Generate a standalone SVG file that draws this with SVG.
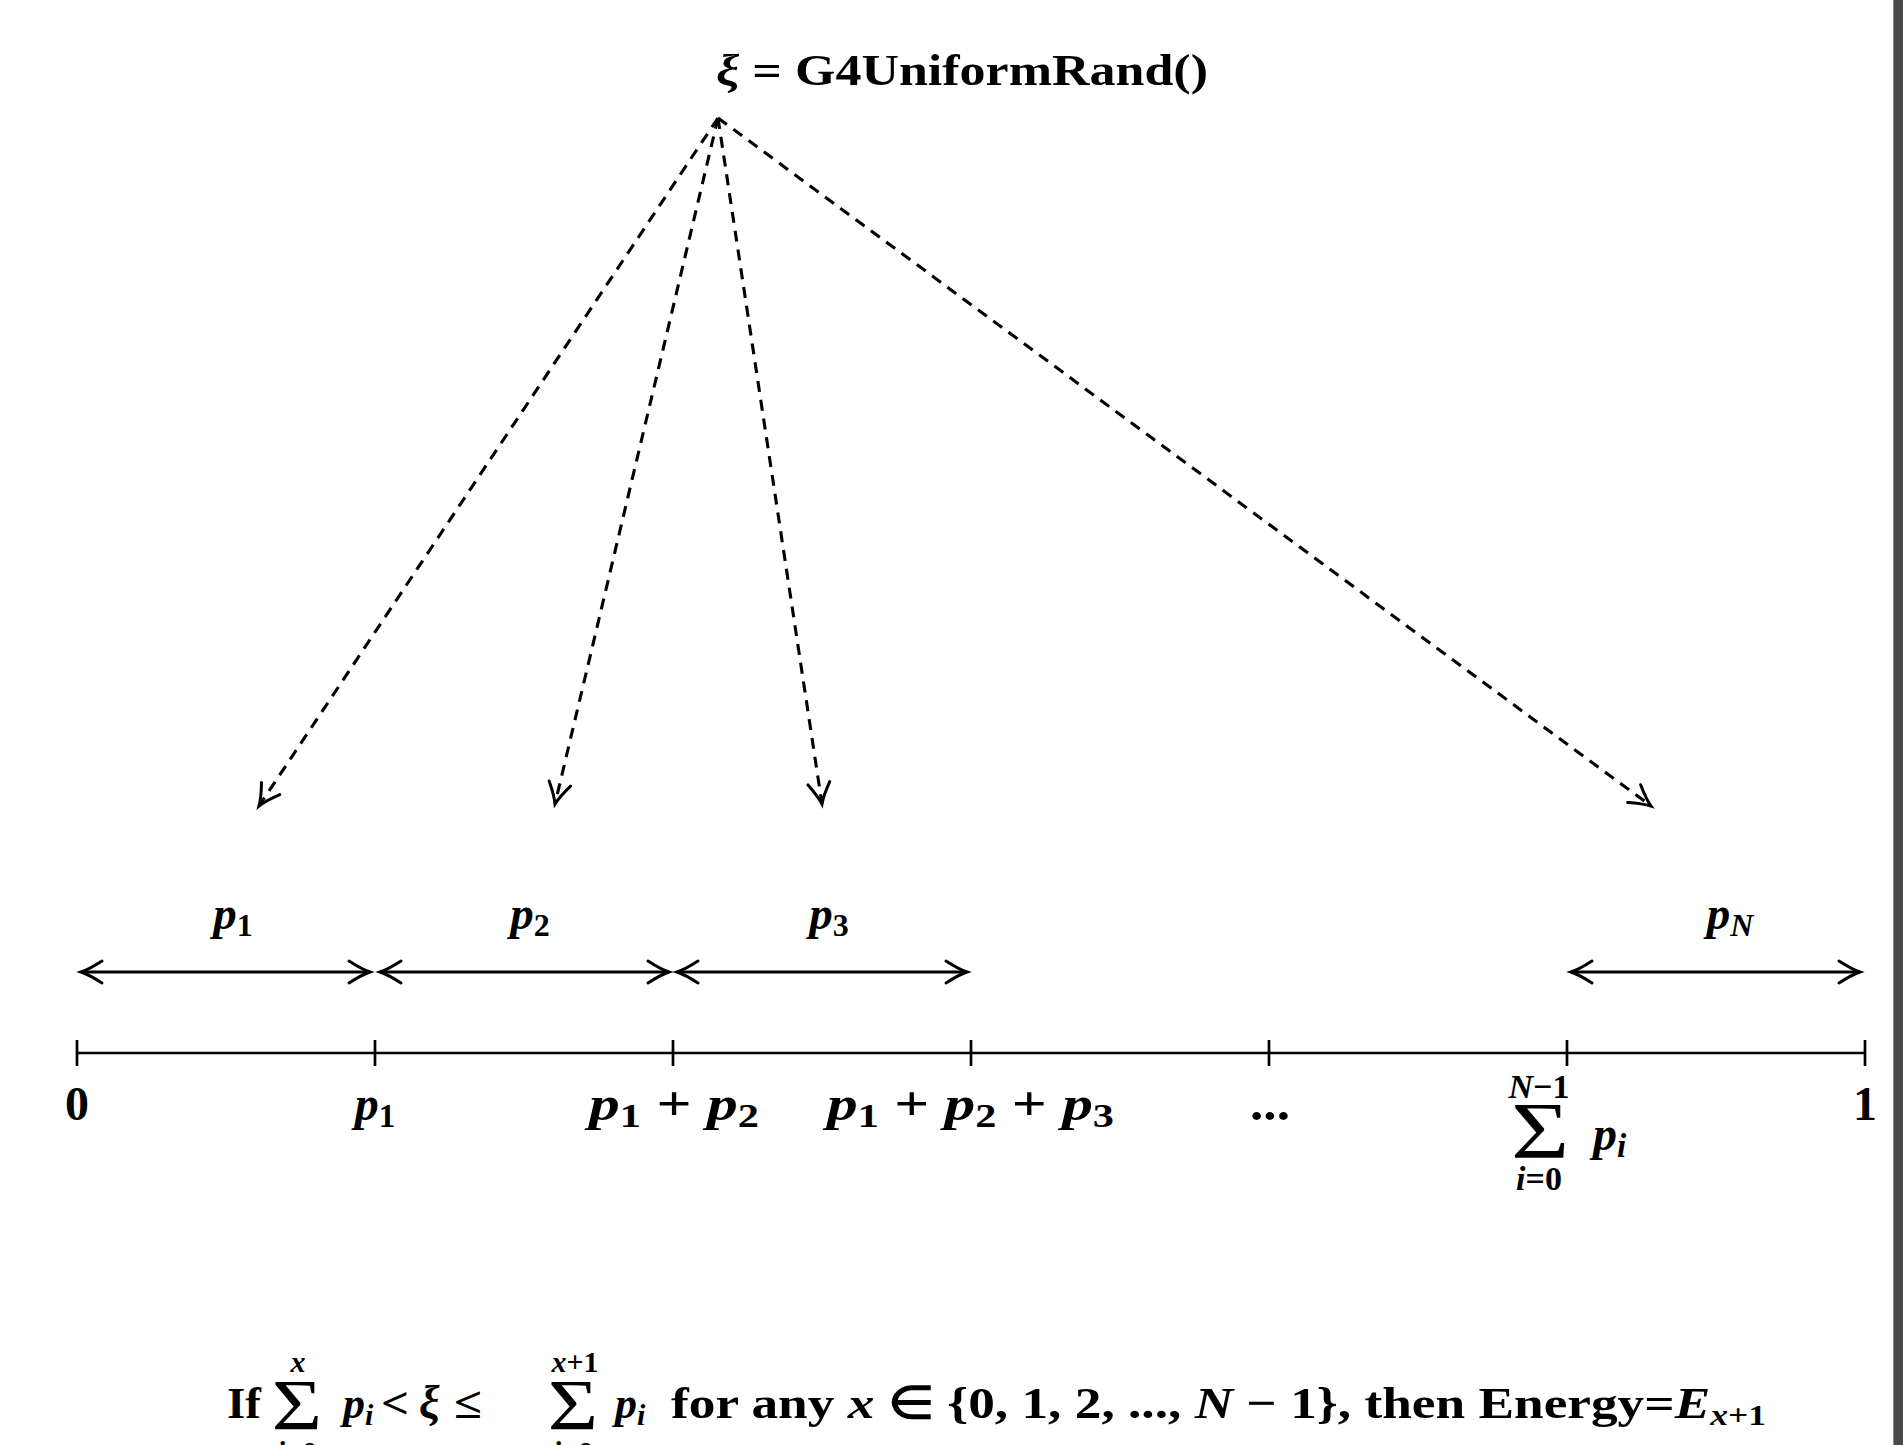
<svg xmlns="http://www.w3.org/2000/svg" width="1903" height="1445" viewBox="0 0 1903 1445">
<style>
.t{font-family:"Liberation Serif",serif;font-weight:bold;fill:#000}
.r{font-family:"Liberation Serif",serif;font-weight:normal;fill:#000}
.i{font-style:italic}
.dash{fill:none;stroke:#000;stroke-width:3.1;stroke-dasharray:11 8}
.dbl{fill:none;stroke:#000;stroke-width:3}
.axis{fill:none;stroke:#000;stroke-width:2.7}
</style>
<defs>
<marker id="ah" markerUnits="userSpaceOnUse" viewBox="-25 -14 30 28" refX="0" refY="0" markerWidth="30" markerHeight="28" orient="auto-start-reverse">
<path d="M-21,-11 C-14,-6.5 -6,-2 0,0 C-6,2 -14,6.5 -21,11" fill="none" stroke="#000" stroke-width="3" stroke-linecap="round" stroke-dasharray="none"/>
</marker>
</defs>
<rect x="0" y="0" width="1903" height="1445" fill="#fff"/>
<rect x="1893" y="0" width="10" height="1445" fill="#4b4b4b"/>
<rect x="1893" y="0" width="1" height="1445" fill="#8a8a8a"/>

<g id="title">
<text class="t" x="716" y="85" font-size="45" textLength="492" lengthAdjust="spacingAndGlyphs"><tspan class="i">ξ</tspan> = G4UniformRand()</text>
</g>

<g id="connectors">
<path class="dash" d="M718,118 L259,806" marker-end="url(#ah)"/>
<path class="dash" d="M718,118 L555,804" marker-end="url(#ah)"/>
<path class="dash" d="M718,118 L822,804" marker-end="url(#ah)"/>
<path class="dash" d="M718,118 L1651,806" marker-end="url(#ah)"/>
<path class="dbl" d="M81,972 L370,972" marker-start="url(#ah)" marker-end="url(#ah)"/>
<path class="dbl" d="M380,972 L669,972" marker-start="url(#ah)" marker-end="url(#ah)"/>
<path class="dbl" d="M677,972 L967,972" marker-start="url(#ah)" marker-end="url(#ah)"/>
<path class="dbl" d="M1571,972 L1860,972" marker-start="url(#ah)" marker-end="url(#ah)"/>
</g>

<g id="segment-labels">
<text class="t" x="233" y="929" font-size="47" text-anchor="middle"><tspan class="i">p</tspan><tspan font-size="32" dy="7">1</tspan></text>
<text class="t" x="530" y="929" font-size="47" text-anchor="middle"><tspan class="i">p</tspan><tspan font-size="32" dy="7">2</tspan></text>
<text class="t" x="829" y="929" font-size="47" text-anchor="middle"><tspan class="i">p</tspan><tspan font-size="32" dy="7">3</tspan></text>
<text class="t" x="1730" y="929" font-size="47" text-anchor="middle"><tspan class="i">p</tspan><tspan class="i" font-size="32" dy="7">N</tspan></text>
</g>

<g id="axis">
<path class="axis" d="M77,1053 L1865,1053"/>
<path class="axis" d="M77,1040 V1066 M375,1040 V1066 M673,1040 V1066 M971,1040 V1066 M1269,1040 V1066 M1567,1040 V1066 M1865,1040 V1066"/>
</g>

<g id="axis-labels">
<text class="t" x="77" y="1120" font-size="48" text-anchor="middle">0</text>
<text class="t" x="375" y="1120" font-size="48" text-anchor="middle"><tspan class="i">p</tspan><tspan font-size="33" dy="7">1</tspan></text>
<text class="t" x="589" y="1120" font-size="48" textLength="170" lengthAdjust="spacingAndGlyphs"><tspan class="i">p</tspan><tspan font-size="33" dy="7">1</tspan><tspan dy="-7"> + </tspan><tspan class="i">p</tspan><tspan font-size="33" dy="7">2</tspan></text>
<text class="t" x="827" y="1120" font-size="48" textLength="287" lengthAdjust="spacingAndGlyphs"><tspan class="i">p</tspan><tspan font-size="33" dy="7">1</tspan><tspan dy="-7"> + </tspan><tspan class="i">p</tspan><tspan font-size="33" dy="7">2</tspan><tspan dy="-7"> + </tspan><tspan class="i">p</tspan><tspan font-size="33" dy="7">3</tspan></text>
<text class="t" x="1250" y="1120" font-size="48" textLength="40" lengthAdjust="spacingAndGlyphs">...</text>
<text class="t" x="1865" y="1120" font-size="48" text-anchor="middle">1</text>
<g id="sum-label">
<text class="t" x="1539" y="1098" font-size="34" text-anchor="middle"><tspan class="i">N</tspan>−1</text>
<text class="r" transform="translate(1540,1158) scale(1.25,1)" x="0" y="0" font-size="80" text-anchor="middle">Σ</text>
<text class="t" x="1593" y="1150" font-size="48"><tspan class="i">p</tspan><tspan class="i" font-size="33" dy="7">i</tspan></text>
<text class="t" x="1539" y="1190" font-size="34" text-anchor="middle"><tspan class="i">i</tspan>=0</text>
</g>
</g>

<g id="condition">
<text class="t" x="227" y="1418" font-size="44" textLength="34" lengthAdjust="spacingAndGlyphs">If</text>
<text class="r" transform="translate(297,1429) scale(1.2,1)" x="0" y="0" font-size="72" text-anchor="middle">Σ</text>
<text class="t i" x="298" y="1372" font-size="30" text-anchor="middle">x</text>
<text class="t" x="297" y="1462" font-size="30" text-anchor="middle"><tspan class="i">i</tspan>=0</text>
<text class="t" x="343" y="1418" font-size="44"><tspan class="i">p</tspan><tspan class="i" font-size="30" dy="7">i</tspan></text>
<text class="t" x="381" y="1418" font-size="44" textLength="28" lengthAdjust="spacingAndGlyphs">&lt;</text>
<text class="t i" x="419" y="1418" font-size="46">ξ</text>
<text class="t" x="454" y="1418" font-size="44" textLength="28" lengthAdjust="spacingAndGlyphs">≤</text>
<text class="r" transform="translate(573,1429) scale(1.2,1)" x="0" y="0" font-size="72" text-anchor="middle">Σ</text>
<text class="t" x="575" y="1372" font-size="30" text-anchor="middle"><tspan class="i">x</tspan>+1</text>
<text class="t" x="573" y="1462" font-size="30" text-anchor="middle"><tspan class="i">i</tspan>=0</text>
<text class="t" x="615" y="1418" font-size="44"><tspan class="i">p</tspan><tspan class="i" font-size="30" dy="7">i</tspan></text>
<text class="t" x="671" y="1418" font-size="45" textLength="1095" lengthAdjust="spacingAndGlyphs">for any <tspan class="i">x</tspan> ∈ {0, 1, 2, ..., <tspan class="i">N</tspan> − 1}, then Energy=<tspan class="i">E</tspan><tspan font-size="30" dy="7"><tspan class="i">x</tspan>+1</tspan></text>
</g>
</svg>
